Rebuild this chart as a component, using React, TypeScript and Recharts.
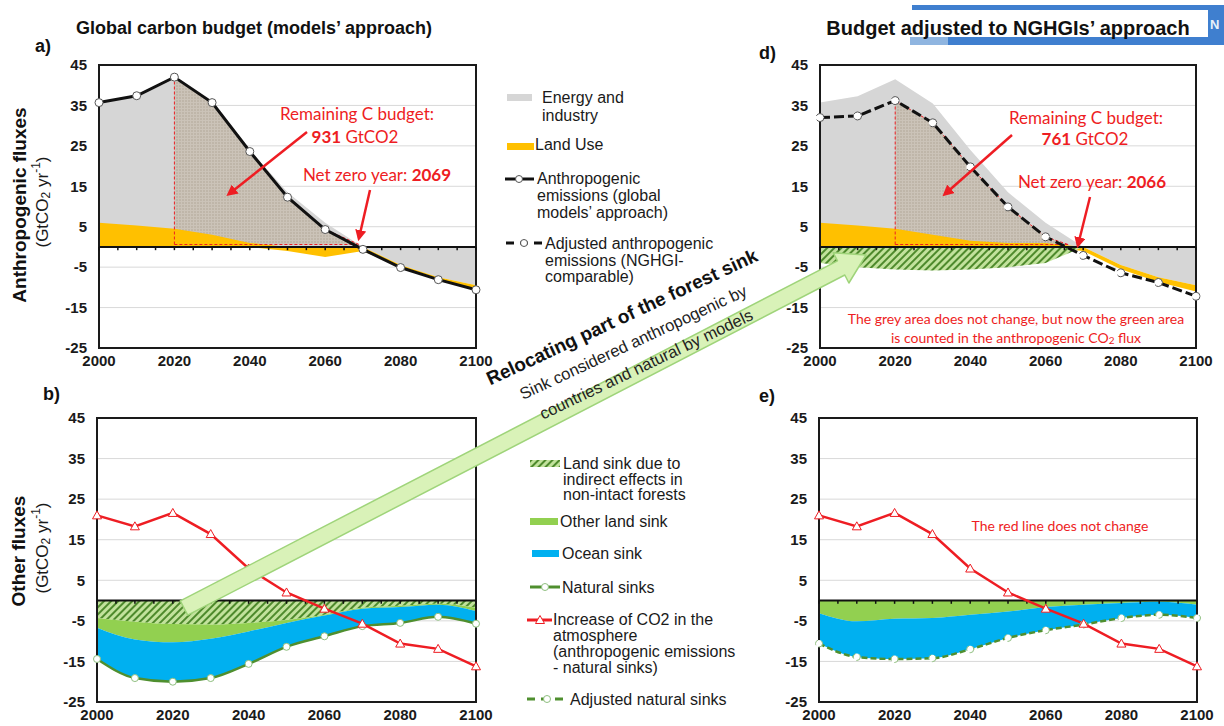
import React from 'react';
import {
  ComposedChart,
  Area,
  Line,
  XAxis,
  YAxis,
  CartesianGrid,
  ReferenceLine,
  ReferenceArea,
} from 'recharts';

const FONT = '"Liberation Sans", Arial, Helvetica, sans-serif';
const RED_FONT = 'Lato, "Open Sans", sans-serif';
const RED = '#ee1d23';

// shared axes
const years = [2000, 2010, 2020, 2030, 2040, 2050, 2060, 2070, 2080, 2090, 2100];
const xTicks = [2000, 2020, 2040, 2060, 2080, 2100];
const yTicks = [45, 35, 25, 15, 5, -5, -15, -25];
const minorTicks = [
  2000, 2005, 2010, 2015, 2020, 2025, 2030, 2035, 2040, 2045, 2050,
  2055, 2060, 2065, 2070, 2075, 2080, 2085, 2090, 2095, 2100,
];

// a) and d): anthropogenic fluxes (GtCO2/yr)
const energyEdge = [35.7, 37.3, 41.5, 35.5, 24.0, 13.5, 6.0, 0.0, -4.5, -7.5, -9.5];
const landUse = [6.0, 5.3, 4.5, 3.0, 1.0, -1.0, -2.5, -1.0, -0.6, -0.6, -1.1];
const landUseAdj = [6.0, 5.3, 4.5, 3.0, 1.5, 1.0, 1.0, -1.0, -1.0, -1.2, -1.5];
const anthroEmissions = [35.7, 37.4, 42.0, 35.7, 23.6, 12.3, 4.3, -0.6, -5.1, -8.1, -10.6];
const adjustedEmissions = [32.0, 32.4, 36.2, 30.7, 19.8, 9.9, 2.5, -2.1, -6.4, -8.8, -12.2];
const indirectSinkD = [-4.0, -5.0, -5.6, -5.8, -5.6, -5.0, -4.0, 0, null, null, null];

const budgetFrom = 2020;
const netZeroA = 2069;
const netZeroD = 2066;
const budgetFloor = 0.6;

// b) and e): other fluxes (GtCO2/yr)
const atmosIncrease = [21.0, 18.3, 21.6, 16.4, 7.9, 2.0, -2.0, -5.7, -10.6, -11.9, -16.2];
const naturalSinks = [-14.4, -19.1, -20.0, -19.1, -15.6, -11.4, -8.8, -6.3, -5.5, -4.0, -5.7];
const oceanTop = [-6.7, -9.6, -10.3, -9.4, -7.6, -5.5, -3.7, -2.0, -1.6, -1.0, -2.6];
const indirectSink = [-4.3, -5.2, -5.8, -5.9, -5.5, -4.8, -3.5, -1.8, -1.3, -0.8, -1.8];
const adjNaturalSinks = [-10.6, -13.9, -14.4, -14.2, -12.0, -9.2, -7.3, -5.9, -4.3, -3.5, -4.3];
const otherLandAdj = [-3.1, -5.1, -4.5, -4.3, -3.5, -2.7, -1.6, -1.0, -0.6, -0.3, -1.0];

function landUseBand(lu: number, edge: number) {
  if (lu >= 0) return [0, lu];
  if (edge >= 0) return [lu, 0];
  return [edge + lu, edge];
}

const dataA = [
  ...years.map((year, i) => ({
    year,
    energy: [0, energyEdge[i]],
    landUse: landUseBand(landUse[i], energyEdge[i]),
    emissions: anthroEmissions[i],
    budget: year >= budgetFrom && year < netZeroA ? [budgetFloor, anthroEmissions[i]] : undefined,
  })),
  { year: netZeroA, budget: [budgetFloor, budgetFloor] },
].sort((p, q) => p.year - q.year);

const dataD = [
  ...years.map((year, i) => ({
    year,
    energy: [0, energyEdge[i]],
    landUse: landUseBand(landUseAdj[i], energyEdge[i]),
    hatch: indirectSinkD[i] != null ? [indirectSinkD[i], 0] : undefined,
    emissions: adjustedEmissions[i],
    budget: year >= budgetFrom && year < netZeroD ? [budgetFloor, adjustedEmissions[i]] : undefined,
  })),
  { year: netZeroD, budget: [budgetFloor, budgetFloor] },
].sort((p, q) => p.year - q.year);

const dataB = years.map((year, i) => ({
  year,
  hatch: [indirectSink[i], 0],
  otherLand: [oceanTop[i], indirectSink[i]],
  ocean: [naturalSinks[i], oceanTop[i]],
  natural: naturalSinks[i],
  atmos: atmosIncrease[i],
}));

const dataE = years.map((year, i) => ({
  year,
  otherLand: [otherLandAdj[i], 0],
  ocean: [adjNaturalSinks[i], otherLandAdj[i]],
  natural: adjNaturalSinks[i],
  atmos: atmosIncrease[i],
}));

const tickFont = { fontSize: 15, fill: '#1a1a1a', fontFamily: FONT, fontWeight: 'bold' };

function frame() {
  return [
    <CartesianGrid key="grid" vertical={false} stroke="#d9d9d9" />,
    <XAxis
      key="x"
      type="number"
      dataKey="year"
      domain={[2000, 2100]}
      ticks={xTicks}
      interval={0}
      tickLine={false}
      axisLine={false}
      tickSize={0}
      tickMargin={7}
      height={24}
      tick={tickFont}
    />,
    <YAxis
      key="y"
      type="number"
      domain={[-25, 45]}
      ticks={yTicks}
      interval={0}
      tickLine={false}
      axisLine={false}
      tickSize={0}
      tickMargin={12}
      width={70}
      tick={tickFont}
      allowDataOverflow
    />,
  ];
}

function zeroAndBorder() {
  return [
    <ReferenceLine key="zero" y={0} stroke="#111" strokeWidth={2} />,
    ...minorTicks.map((yr) => (
      <ReferenceLine
        key={'mt' + yr}
        segment={[{ x: yr, y: 0 }, { x: yr, y: -0.8 }]}
        stroke="#111"
        strokeWidth={1.5}
      />
    )),
    <ReferenceArea
      key="border"
      x1={2000}
      x2={2100}
      y1={-25}
      y2={45}
      fill="none"
      fillOpacity={0}
      stroke="#1a1a1a"
      strokeWidth={2}
    />,
  ];
}

const TriangleDot = (props: any) => {
  const { cx, cy, index } = props;
  if (cx == null || cy == null) return <g key={'tri' + index} />;
  return (
    <path
      key={'tri' + index}
      d={`M${cx},${cy - 4.5} L${cx + 4.5},${cy + 3.5} L${cx - 4.5},${cy + 3.5} Z`}
      fill="#fff"
      stroke={RED}
      strokeWidth={1}
    />
  );
};

const whiteDot = { r: 4, fill: '#fff', stroke: '#555', strokeWidth: 1 };
const greenDot = { r: 3.5, fill: '#fff', stroke: '#8fbf7f', strokeWidth: 1 };

type Box = { l: number; t: number; r: number; b: number };

function Panel({ box, data, children }: { box: Box; data: any[]; children: React.ReactNode }) {
  const left = box.l - 70;
  const top = box.t - 10;
  return (
    <div style={{ position: 'absolute', left, top }}>
      <ComposedChart
        width={box.r - left + 22}
        height={box.b - top + 24}
        data={data}
        margin={{ top: 10, right: 22, left: 0, bottom: 0 }}
      >
        {children}
      </ComposedChart>
    </div>
  );
}

function patterns(suffix: string) {
  return (
    <defs>
      <pattern id={'hatch' + suffix} patternUnits="userSpaceOnUse" width="5" height="5" patternTransform="rotate(45)">
        <rect width="5" height="5" fill="#c2e29c" />
        <line x1="1" y1="0" x2="1" y2="5" stroke="#4e8a2c" strokeWidth="2" />
      </pattern>
      <pattern id={'dots' + suffix} patternUnits="userSpaceOnUse" width="3" height="3">
        <rect width="3" height="3" fill="#cbc3b8" />
        <circle cx="1" cy="1" r="0.7" fill="#ab9f90" />
      </pattern>
    </defs>
  );
}

function PanelA() {
  const top2020 = anthroEmissions[years.indexOf(budgetFrom)];
  return (
    <Panel box={{ l: 99, t: 65, r: 476, b: 348 }} data={dataA}>
      {patterns('A')}
      {frame()}
      <Area dataKey="energy" type="linear" stroke="none" fill="#d6d6d6" fillOpacity={1} connectNulls activeDot={false} isAnimationActive={false} />
      <Area dataKey="budget" type="linear" stroke="none" fill="url(#dotsA)" fillOpacity={1} activeDot={false} isAnimationActive={false} />
      <Area dataKey="landUse" type="linear" stroke="none" fill="#ffc000" fillOpacity={1} connectNulls activeDot={false} isAnimationActive={false} />
      <Area dataKey="budget" type="linear" stroke={RED} strokeWidth={1} strokeDasharray="3 2" fill="none" activeDot={false} isAnimationActive={false} />
      <ReferenceLine segment={[{ x: budgetFrom, y: budgetFloor }, { x: budgetFrom, y: top2020 }]} stroke={RED} strokeDasharray="3 2" />
      {zeroAndBorder()}
      <Line dataKey="emissions" type="linear" stroke="#111" strokeWidth={3} dot={whiteDot} activeDot={false} connectNulls isAnimationActive={false} />
    </Panel>
  );
}

function PanelD() {
  const top2020 = adjustedEmissions[years.indexOf(budgetFrom)];
  return (
    <Panel box={{ l: 820, t: 65, r: 1196, b: 348 }} data={dataD}>
      {patterns('D')}
      {frame()}
      <Area dataKey="energy" type="linear" stroke="none" fill="#d6d6d6" fillOpacity={1} connectNulls activeDot={false} isAnimationActive={false} />
      <Area dataKey="budget" type="linear" stroke="none" fill="url(#dotsD)" fillOpacity={1} activeDot={false} isAnimationActive={false} />
      <Area dataKey="landUse" type="linear" stroke="none" fill="#ffc000" fillOpacity={1} connectNulls activeDot={false} isAnimationActive={false} />
      <Area dataKey="hatch" type="linear" stroke="none" fill="url(#hatchD)" fillOpacity={1} connectNulls activeDot={false} isAnimationActive={false} />
      <Area dataKey="budget" type="linear" stroke={RED} strokeWidth={1} strokeDasharray="3 2" fill="none" activeDot={false} isAnimationActive={false} />
      <ReferenceLine segment={[{ x: budgetFrom, y: budgetFloor }, { x: budgetFrom, y: top2020 }]} stroke={RED} strokeDasharray="3 2" />
      {zeroAndBorder()}
      <Line dataKey="emissions" type="linear" stroke="#111" strokeWidth={3} strokeDasharray="10 4" dot={whiteDot} activeDot={false} connectNulls isAnimationActive={false} />
    </Panel>
  );
}

function PanelB() {
  return (
    <Panel box={{ l: 97, t: 418, r: 476, b: 702 }} data={dataB}>
      {patterns('B')}
      {frame()}
      <Area dataKey="hatch" type="monotone" stroke="none" fill="url(#hatchB)" fillOpacity={1} activeDot={false} isAnimationActive={false} />
      <Area dataKey="otherLand" type="monotone" stroke="none" fill="#92d050" fillOpacity={1} activeDot={false} isAnimationActive={false} />
      <Area dataKey="ocean" type="monotone" stroke="none" fill="#00b0f0" fillOpacity={1} activeDot={false} isAnimationActive={false} />
      {zeroAndBorder()}
      <Line dataKey="natural" type="monotone" stroke="#4f8f2f" strokeWidth={2.5} dot={greenDot} activeDot={false} isAnimationActive={false} />
      <Line dataKey="atmos" type="linear" stroke={RED} strokeWidth={2.5} dot={TriangleDot} activeDot={false} isAnimationActive={false} />
    </Panel>
  );
}

function PanelE() {
  return (
    <Panel box={{ l: 819, t: 418, r: 1197, b: 702 }} data={dataE}>
      {frame()}
      <Area dataKey="otherLand" type="monotone" stroke="none" fill="#92d050" fillOpacity={1} activeDot={false} isAnimationActive={false} />
      <Area dataKey="ocean" type="monotone" stroke="none" fill="#00b0f0" fillOpacity={1} activeDot={false} isAnimationActive={false} />
      {zeroAndBorder()}
      <Line dataKey="natural" type="monotone" stroke="#4f8f2f" strokeWidth={2.5} strokeDasharray="6 3" dot={greenDot} activeDot={false} isAnimationActive={false} />
      <Line dataKey="atmos" type="linear" stroke={RED} strokeWidth={2.5} dot={TriangleDot} activeDot={false} isAnimationActive={false} />
    </Panel>
  );
}

function arrowPoints(tx: number, ty: number, px: number, py: number, shaft: number, headW: number, headL: number) {
  const dx = px - tx;
  const dy = py - ty;
  const len = Math.hypot(dx, dy);
  const ux = dx / len;
  const uy = dy / len;
  const nx = -uy;
  const ny = ux;
  const bx = px - ux * headL;
  const by = py - uy * headL;
  const pts = [
    [tx + nx * shaft, ty + ny * shaft],
    [bx + nx * shaft, by + ny * shaft],
    [bx + nx * headW, by + ny * headW],
    [px, py],
    [bx - nx * headW, by - ny * headW],
    [bx - nx * shaft, by - ny * shaft],
    [tx - nx * shaft, ty - ny * shaft],
  ];
  return pts.map((p) => p.map((v) => v.toFixed(1)).join(',')).join(' ');
}

function UnitLabel({ x, y }: { x: number; y: number }) {
  return (
    <text transform={`translate(${x},${y}) rotate(-90)`} textAnchor="middle" dominantBaseline="central" fontSize={17} fontFamily={FONT} fill="#1a1a1a">
      (GtCO<tspan fontSize={12} dy={4}>2</tspan>
      <tspan dy={-4}> yr</tspan>
      <tspan fontSize={12} dy={-6}>-1</tspan>
      <tspan dy={6}>)</tspan>
    </text>
  );
}

function LegendText({ x, y, lines, gap = 16.5 }: { x: number; y: number; lines: string[]; gap?: number }) {
  return (
    <text x={x} y={y} fontSize={16} fontFamily={FONT} fill="#1a1a1a" dominantBaseline="central">
      {lines.map((ln, i) => (
        <tspan key={i} x={x} dy={i === 0 ? 0 : gap}>
          {ln}
        </tspan>
      ))}
    </text>
  );
}

function Overlay() {
  const redText = { fill: RED, fontFamily: RED_FONT, textAnchor: 'middle' as const, dominantBaseline: 'central' as const };
  return (
    <svg width={1224} height={726} style={{ position: 'absolute', left: 0, top: 0, pointerEvents: 'none' }}>
      <defs>
        <marker id="redHead" viewBox="0 0 10 10" refX="7" refY="5" markerWidth="4.5" markerHeight="4.5" orient="auto">
          <path d="M0,0 L10,5 L0,10 Z" fill={RED} />
        </marker>
        <pattern id="hatchLegend" patternUnits="userSpaceOnUse" width="5" height="5" patternTransform="rotate(45)">
          <rect width="5" height="5" fill="#c2e29c" />
          <line x1="1" y1="0" x2="1" y2="5" stroke="#4e8a2c" strokeWidth="2" />
        </pattern>
      </defs>

      {/* banner behind the right title */}
      <rect x={912} y={5} width={312} height={40} fill="#3f7fcf" />
      <rect x={910} y={36} width={38} height={9} fill="#8fb5e0" />
      <rect x={817} y={10} width={391} height={27} fill="#fff" />
      <text x={1210} y={29} fontSize={13} fontWeight="bold" fontFamily={FONT} fill="#e8f0fa">N</text>

      {/* titles and panel letters */}
      <text x={254} y={34} textAnchor="middle" fontSize={18} fontWeight="bold" fontFamily={FONT} fill="#111">
        Global carbon budget (models’ approach)
      </text>
      <text x={1008} y={35} textAnchor="middle" fontSize={20} fontWeight="bold" fontFamily={FONT} fill="#111">
        Budget adjusted to NGHGIs’ approach
      </text>
      <text x={35} y={52} fontSize={18} fontWeight="bold" fontFamily={FONT} fill="#111">a)</text>
      <text x={43} y={400} fontSize={18} fontWeight="bold" fontFamily={FONT} fill="#111">b)</text>
      <text x={759} y={59} fontSize={18} fontWeight="bold" fontFamily={FONT} fill="#111">d)</text>
      <text x={759} y={402} fontSize={18} fontWeight="bold" fontFamily={FONT} fill="#111">e)</text>

      {/* y-axis titles */}
      <text transform="translate(19,205) rotate(-90)" textAnchor="middle" dominantBaseline="central" fontSize={19} fontWeight="bold" fontFamily={FONT} fill="#111">
        Anthropogenic fluxes
      </text>
      <UnitLabel x={42} y={202} />
      <text transform="translate(18,551) rotate(-90)" textAnchor="middle" dominantBaseline="central" fontSize={19} fontWeight="bold" fontFamily={FONT} fill="#111">
        Other fluxes
      </text>
      <UnitLabel x={42} y={548} />

      {/* legend: anthropogenic */}
      <rect x={507} y={94} width={25} height={7} fill="#d6d6d6" />
      <LegendText x={542} y={97} lines={['Energy and', 'industry']} gap={18} />
      <rect x={507} y={143} width={27} height={7} fill="#ffc000" />
      <LegendText x={535} y={144} lines={['Land Use']} />
      <line x1={505} y1={179} x2={534} y2={179} stroke="#111" strokeWidth={3} />
      <circle cx={519} cy={179} r={3.5} fill="#fff" stroke="#555" />
      <LegendText x={537} y={178} lines={['Anthropogenic', 'emissions (global', 'models’ approach)']} gap={17} />
      <line x1={505} y1={243} x2={543} y2={243} stroke="#111" strokeWidth={3} strokeDasharray="8 6" strokeDashoffset={-1} />
      <circle cx={524} cy={243} r={3.5} fill="#fff" stroke="#555" />
      <LegendText x={545} y={243} lines={['Adjusted anthropogenic', 'emissions (NGHGI-', 'comparable)']} />

      {/* legend: other fluxes */}
      <rect x={530} y={460} width={30} height={7} fill="url(#hatchLegend)" />
      <LegendText x={563} y={463} lines={['Land sink due to', 'indirect effects in', 'non-intact forests']} gap={15.5} />
      <rect x={530} y={518} width={28} height={7} fill="#92d050" />
      <LegendText x={560} y={521} lines={['Other land sink']} />
      <rect x={532} y={550} width={27} height={7} fill="#00b0f0" />
      <LegendText x={562} y={553} lines={['Ocean sink']} />
      <line x1={530} y1={587} x2={560} y2={587} stroke="#4f8f2f" strokeWidth={3} />
      <circle cx={545} cy={587} r={3.5} fill="#fff" stroke="#8fbf7f" />
      <LegendText x={562} y={587} lines={['Natural sinks']} />
      <line x1={527} y1={620} x2={552} y2={620} stroke={RED} strokeWidth={3} />
      <path d="M540,615.5 L544.5,623.5 L535.5,623.5 Z" fill="#fff" stroke={RED} />
      <LegendText x={553} y={619} lines={['Increase of CO2 in the', 'atmosphere', '(anthropogenic emissions', '- natural sinks)']} gap={16} />
      <line x1={527} y1={699} x2={568} y2={699} stroke="#4f8f2f" strokeWidth={3} strokeDasharray="8 6" />
      <circle cx={547} cy={699} r={3.5} fill="#fff" stroke="#8fbf7f" />
      <LegendText x={570} y={699} lines={['Adjusted natural sinks']} />

      {/* panel a annotations */}
      <text x={357} y={113} fontSize={17} {...redText}>Remaining C budget:</text>
      <text x={355} y={136} fontSize={17} {...redText}>
        <tspan fontWeight="bold">931</tspan> GtCO2
      </text>
      <text x={377} y={174} fontSize={17} {...redText}>
        Net zero year: <tspan fontWeight="bold">2069</tspan>
      </text>
      <line x1={307} y1={132} x2={229} y2={194} stroke={RED} strokeWidth={2.5} markerEnd="url(#redHead)" />
      <line x1={370} y1={190} x2={359} y2={238} stroke={RED} strokeWidth={2.5} markerEnd="url(#redHead)" />

      {/* panel d annotations */}
      <text x={1086} y={117} fontSize={17} {...redText}>Remaining C budget:</text>
      <text x={1085} y={138} fontSize={17} {...redText}>
        <tspan fontWeight="bold">761</tspan> GtCO2
      </text>
      <text x={1092} y={181} fontSize={17} {...redText}>
        Net zero year: <tspan fontWeight="bold">2066</tspan>
      </text>
      <line x1={1012} y1={135} x2={945} y2={194} stroke={RED} strokeWidth={2.5} markerEnd="url(#redHead)" />
      <line x1={1090} y1={197} x2={1078} y2={245} stroke={RED} strokeWidth={2.5} markerEnd="url(#redHead)" />
      <text x={1016} y={318} fontSize={14} {...redText}>The grey area does not change, but now the green area</text>
      <text x={1016} y={337} fontSize={14} {...redText}>
        is counted in the anthropogenic CO<tspan fontSize={10} dy={3}>2</tspan>
        <tspan dy={-3}> flux</tspan>
      </text>

      {/* panel e annotation */}
      <text x={1060} y={525} fontSize={14} {...redText}>The red line does not change</text>

      {/* big green arrow */}
      <polygon points={arrowPoints(184, 608, 866, 255, 8, 17, 28)} fill="#d9f2b8" stroke="#9fd47a" strokeWidth={1.5} strokeLinejoin="round" />
      <text transform="translate(622,317) rotate(-25)" textAnchor="middle" dominantBaseline="central" fontSize={19} fontWeight="bold" fontFamily={FONT} fill="#111">
        Relocating part of the forest sink
      </text>
      <text transform="translate(633,342) rotate(-25)" textAnchor="middle" dominantBaseline="central" fontSize={16.5} fontFamily={FONT} fill="#222">
        Sink considered anthropogenic by
      </text>
      <text transform="translate(646,364) rotate(-25.5)" textAnchor="middle" dominantBaseline="central" fontSize={16.5} fontFamily={FONT} fill="#222">
        countries and natural by models
      </text>
    </svg>
  );
}

export default function App() {
  return (
    <div style={{ position: 'absolute', left: 0, top: 0, width: 1224, height: 726, background: '#fff', overflow: 'hidden', fontFamily: FONT }}>
      <PanelA />
      <PanelB />
      <PanelD />
      <PanelE />
      <Overlay />
    </div>
  );
}
